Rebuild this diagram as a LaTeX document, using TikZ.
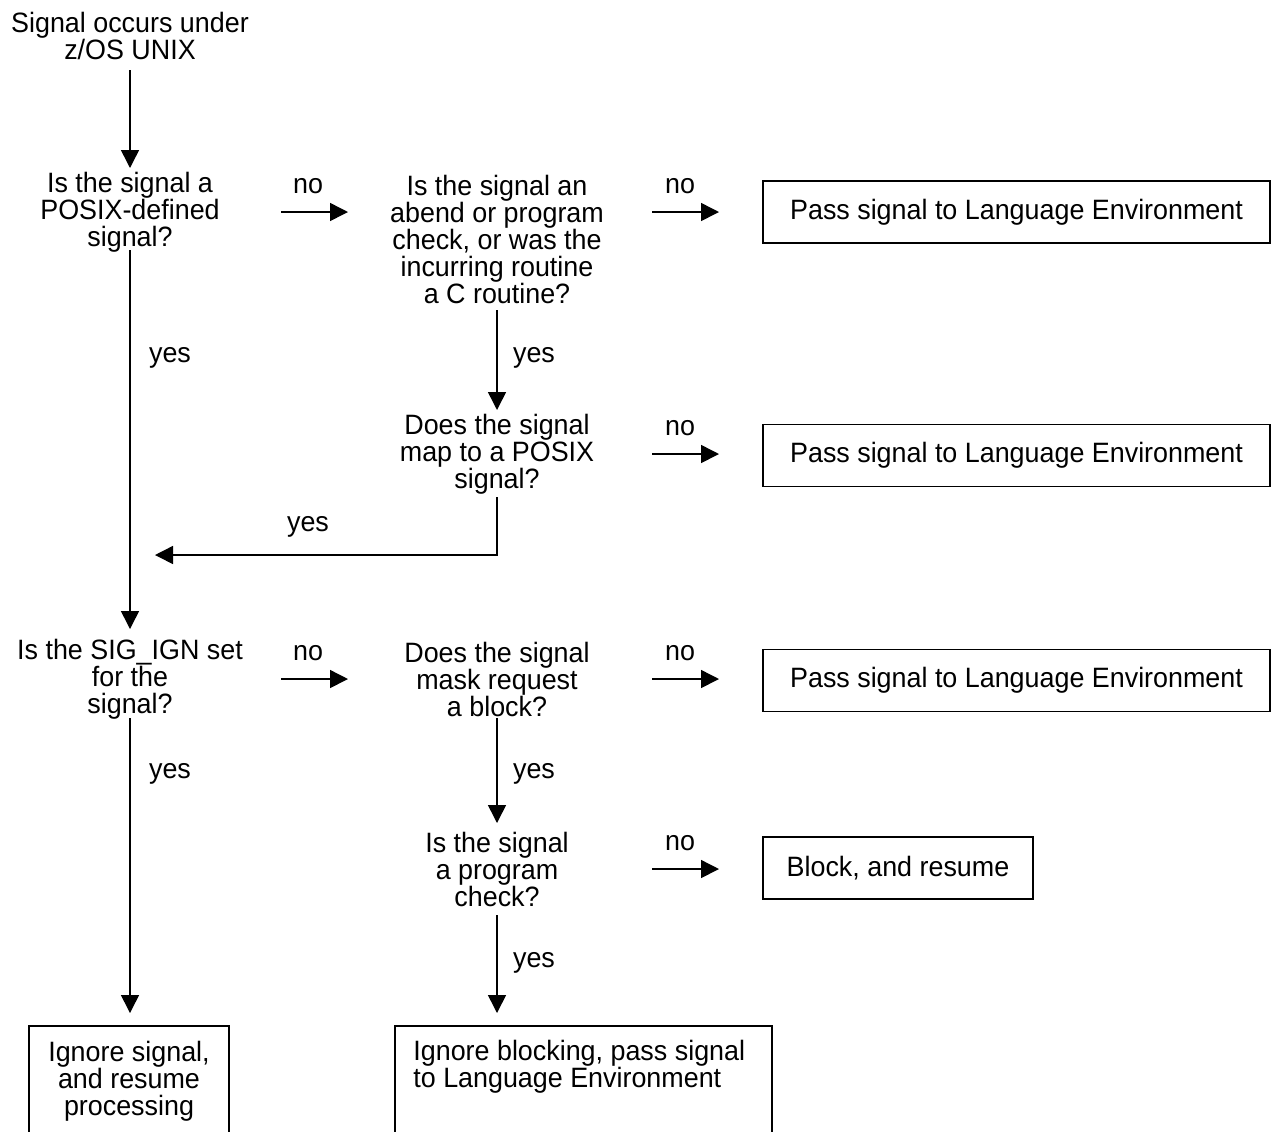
\documentclass[tikz,border=0pt]{standalone}
\usepackage{fontspec}
\setmainfont[FakeStretch=0.96]{Liberation Sans}
\usetikzlibrary{arrows.meta}
\begin{document}
\begin{tikzpicture}[x=0.5pt,y=-0.5pt,
  every node/.style={font=\fontsize{14}{13.5}\selectfont, inner sep=0pt},
  txt/.style={align=center},
  lbl/.style={},
  arr/.style={line width=0.75pt, -{Triangle[length=9pt,width=9pt]}},
  ln/.style={line width=0.75pt},
  pbox/.style={draw, line width=0.8pt, minimum height=31pt, align=center},
  obox/.style={line width=0.8pt}]
\useasboundingbox (0,0) rectangle (1272,1131);

% start
\node[txt] (start) at (130,36) {Signal occurs under\\z/OS UNIX};

% decisions
\node[txt] (d1) at (130,212) {Is the signal a\\POSIX-defined\\signal?};
\node[txt] (d2) at (497,239.5) {Is the signal an\\abend or program\\check, or was the\\incurring routine\\a C routine?};
\node[txt] (d3) at (497,454) {Does the signal\\map to a POSIX\\signal?};
\node[txt] (d4) at (130,679) {Is the SIG\_IGN set\\for the\\signal?};
\node[txt] (d5) at (497,679) {Does the signal\\mask request\\a block?};
\node[txt] (d6) at (497,869) {Is the signal\\a program\\check?};

% boxes
\node[pbox, minimum width=253.5pt] (b1) at (1016.5,212) {Pass signal to Language Environment};
\node[pbox, minimum width=253.5pt] (b2) at (1016.5,455.5) {Pass signal to Language Environment};
\node[pbox, minimum width=253.5pt] (b3) at (1016.5,680.5) {Pass signal to Language Environment};
\node[pbox, minimum width=135pt] (b4) at (898,868) {Block, and resume};

% open bottom boxes
\coordinate (b5nw) at (29,1026);
\coordinate (b5ne) at (229,1026);
\coordinate (b5sw) at (29,1140);
\coordinate (b5se) at (229,1140);
\draw[obox] (b5sw) -- (b5nw) -- (b5ne) -- (b5se);
\node[txt] (b5) at (129,1081) {Ignore signal,\\and resume\\processing};

\coordinate (b6nw) at (395,1026);
\coordinate (b6ne) at (772,1026);
\coordinate (b6sw) at (395,1140);
\coordinate (b6se) at (772,1140);
\draw[obox] (b6sw) -- (b6nw) -- (b6ne) -- (b6se);
\node[align=left, anchor=west] (b6) at (413,1067) {Ignore blocking, pass signal\\to Language Environment};

% connector coordinates
\coordinate (s0) at (130,70);
\coordinate (s1) at (130,168);
\coordinate (n1a) at (281,212);
\coordinate (n1b) at (348,212);
\coordinate (n2a) at (652,212);
\coordinate (n2b) at (719,212);
\coordinate (y1a) at (130,250);
\coordinate (y1b) at (130,629);
\coordinate (y2a) at (497,310);
\coordinate (y2b) at (497,410);
\coordinate (n3a) at (652,454);
\coordinate (n3b) at (719,454);
\coordinate (y3a) at (497,497);
\coordinate (y3c) at (497,555);
\coordinate (y3b) at (155,555);
\coordinate (n4a) at (281,679);
\coordinate (n4b) at (348,679);
\coordinate (n5a) at (652,679);
\coordinate (n5b) at (719,679);
\coordinate (y4a) at (130,718);
\coordinate (y4b) at (130,1013);
\coordinate (y5a) at (497,718);
\coordinate (y5b) at (497,823);
\coordinate (n6a) at (652,869);
\coordinate (n6b) at (719,869);
\coordinate (y6a) at (497,915);
\coordinate (y6b) at (497,1013);

\draw[arr] (s0) -- (s1);
\draw[arr] (n1a) -- (n1b);
\draw[arr] (n2a) -- (n2b);
\draw[arr] (y1a) -- (y1b);
\draw[arr] (y2a) -- (y2b);
\draw[arr] (n3a) -- (n3b);
\draw[arr] (y3a) -- (y3c) -- (y3b);
\draw[arr] (n4a) -- (n4b);
\draw[arr] (n5a) -- (n5b);
\draw[arr] (y4a) -- (y4b);
\draw[arr] (y5a) -- (y5b);
\draw[arr] (n6a) -- (n6b);
\draw[arr] (y6a) -- (y6b);

% labels
\node[lbl] (l1) at (308,186) {no};
\node[lbl] (l2) at (680,186) {no};
\node[lbl] (l3) at (170,358) {yes};
\node[lbl] (l4) at (534,358) {yes};
\node[lbl] (l5) at (680,428) {no};
\node[lbl] (l6) at (308,527) {yes};
\node[lbl] (l7) at (308,653) {no};
\node[lbl] (l8) at (680,653) {no};
\node[lbl] (l9) at (170,774) {yes};
\node[lbl] (l10) at (534,774) {yes};
\node[lbl] (l11) at (680,843) {no};
\node[lbl] (l12) at (534,963) {yes};
\end{tikzpicture}
\end{document}
